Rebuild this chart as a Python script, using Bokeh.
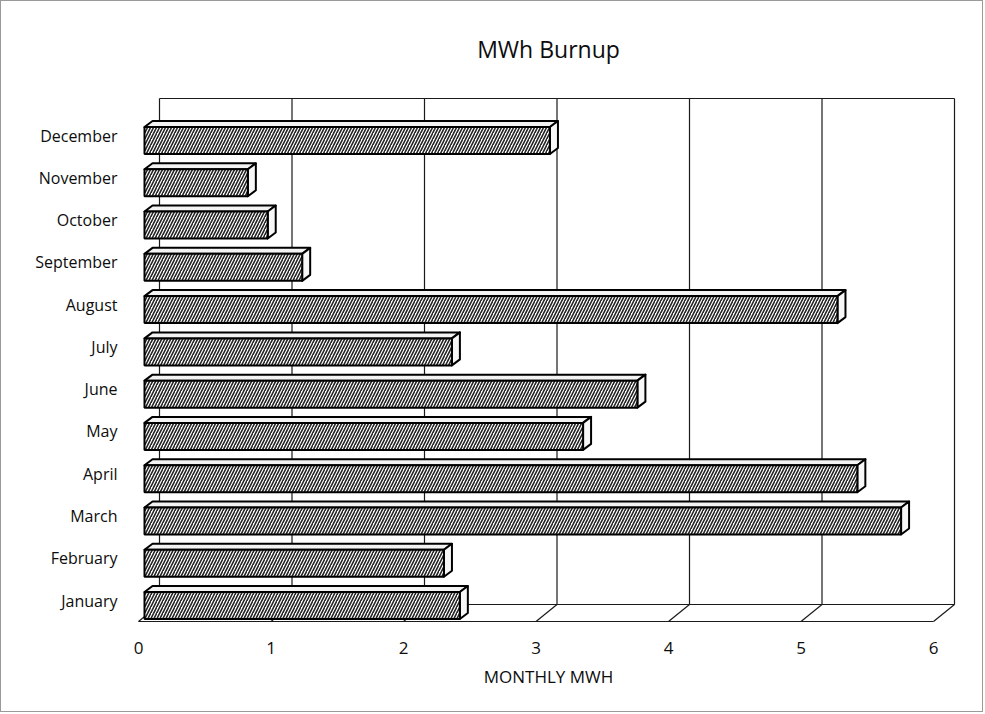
from bokeh.plotting import figure
from bokeh.models import Range1d, FixedTicker, ColumnDataSource
from bokeh.embed import file_html
from bokeh.resources import INLINE

# ---- data ----
months = ["January", "February", "March", "April", "May", "June",
          "July", "August", "September", "October", "November", "December"]
mwh = [2.38, 2.26, 5.71, 5.38, 3.31, 3.72, 2.32, 5.23, 1.19, 0.93, 0.78, 3.06]
x_ticks = [0, 1, 2, 3, 4, 5, 6]
title_text = "MWh Burnup"
x_title = "MONTHLY MWH"

# ---- geometry / style constants (pixel-derived) ----
W, H = 983, 712
PX_X = 132.5          # px per unit on x
PX_Y = 42.27          # px per category step
FRAME_L, FRAME_R, FRAME_T, FRAME_B = 127, 967, 84, 627
ZERO_PX, ROW0_PX = 137, 599

x_start = (FRAME_L - ZERO_PX) / PX_X
x_end = (FRAME_R - ZERO_PX) / PX_X
y_start = (ROW0_PX - FRAME_B) / PX_Y
y_end = (ROW0_PX - FRAME_T) / PX_Y

DX, DY = 21 / PX_X, 17 / PX_Y        # full depth offset (back wall)
bdx, bdy = 8 / PX_X, 6 / PX_Y         # bar depth offset
bx0 = 6 / PX_X                        # bar front-face start
bh = 27 / PX_Y                        # bar front face height
bshift = -5 / PX_Y                    # front face centre relative to row
floor_front = -21 / PX_Y
floor_back = floor_front + DY
wall_top = (ROW0_PX - 97) / PX_Y

FONT = "Open Sans"
TXT = "#0d0d0d"

p = figure(width=W, height=H, output_backend="svg", toolbar_location=None,
           x_range=Range1d(x_start, x_end), y_range=Range1d(y_start, y_end),
           min_border_left=FRAME_L, min_border_right=W - FRAME_R,
           min_border_top=FRAME_T, min_border_bottom=H - FRAME_B,
           styles={"border": "1px solid #9a9a9a"})
p.outline_line_color = None
p.xgrid.visible = False
p.ygrid.visible = False
p.background_fill_color = "white"
p.border_fill_color = "white"

# title
p.title.text = title_text
p.title.align = "center"
p.title.text_font = FONT
p.title.text_font_size = "23px"
p.title.text_font_style = "normal"
p.title.text_color = TXT
p.title.standoff = 41

LC = "#1a1a1a"
# back wall vertical grid lines + frame
for k in x_ticks:
    p.line([k + DX, k + DX], [floor_back, wall_top], line_color=LC, line_width=1.2)
p.line([x_ticks[0] + DX, x_ticks[-1] + DX], [wall_top, wall_top], line_color=LC, line_width=1.2)
# floor
p.line([x_ticks[0] + DX, x_ticks[-1] + DX], [floor_back, floor_back], line_color=LC, line_width=1.2)
p.line([x_ticks[0], x_ticks[-1]], [floor_front, floor_front], line_color=LC, line_width=1.2)
for k in x_ticks:
    p.line([k, k + DX], [floor_front, floor_back], line_color=LC, line_width=1.2)

# bars (3D)
ys = list(range(len(months)))
front_l = [bx0] * len(mwh)
front_r = [bx0 + v for v in mwh]
bot = [y + bshift - bh / 2 for y in ys]
top = [y + bshift + bh / 2 for y in ys]

top_xs = [[l, r, r + bdx, l + bdx] for l, r in zip(front_l, front_r)]
top_ys = [[t, t, t + bdy, t + bdy] for t in top]
side_xs = [[r, r, r + bdx, r + bdx] for r in front_r]
side_ys = [[b, t, t + bdy, b + bdy] for b, t in zip(bot, top)]

p.patches(top_xs, top_ys, fill_color="#f3f3f3", line_color="black", line_width=2,
          line_join="round")
p.patches(side_xs, side_ys, fill_color="#f7f7f7", line_color="black", line_width=2,
          line_join="round")
src = ColumnDataSource(dict(l=front_l, r=front_r, b=bot, t=top))
p.quad(left="l", right="r", bottom="b", top="t", source=src,
       fill_color="white", hatch_pattern="/", hatch_color="#222222",
       hatch_scale=6, hatch_weight=1.6, line_color="black", line_width=2)

# axes
xa = p.xaxis[0]
xa.ticker = FixedTicker(ticks=x_ticks)
xa.axis_line_color = None
xa.major_tick_line_color = None
xa.minor_tick_line_color = None
xa.major_label_text_font = FONT
xa.major_label_text_font_size = "17px"
xa.major_label_text_color = TXT
xa.major_label_standoff = 7
xa.axis_label = x_title
xa.axis_label_text_font = FONT
xa.axis_label_text_font_size = "17px"
xa.axis_label_text_font_style = "normal"
xa.axis_label_text_color = TXT
xa.axis_label_standoff = 8

ya = p.yaxis[0]
ya.ticker = FixedTicker(ticks=ys)
ya.major_label_overrides = {i: m for i, m in enumerate(months)}
ya.axis_line_color = None
ya.major_tick_line_color = None
ya.minor_tick_line_color = None
ya.major_label_text_font = FONT
ya.major_label_text_font_size = "16px"
ya.major_label_text_color = TXT
ya.major_label_standoff = 5

open("out.html", "w").write(file_html(p, INLINE))
